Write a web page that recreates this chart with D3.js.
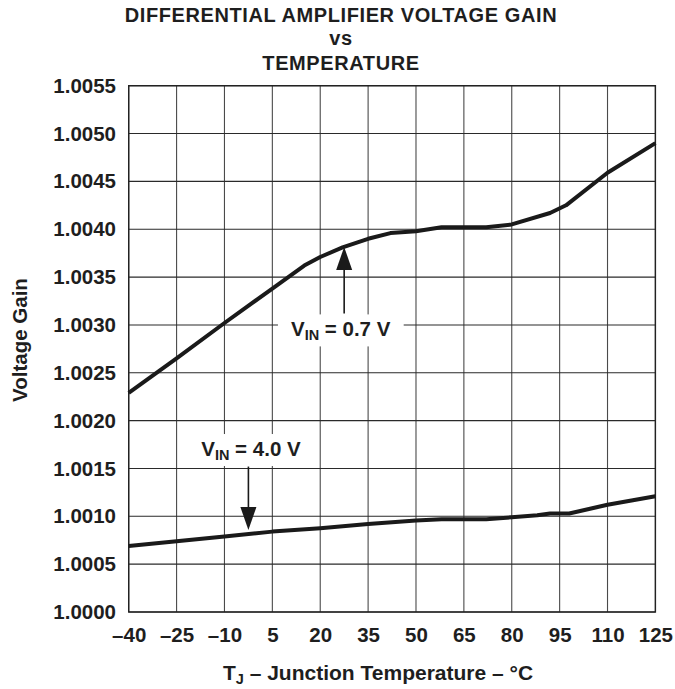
<!DOCTYPE html>
<html>
<head>
<meta charset="utf-8">
<script src="https://cdn.jsdelivr.net/npm/d3@7"></script>
<style>
  html, body { margin: 0; padding: 0; background: #fff; }
  svg { display: block; font-family: "Liberation Sans", Arial, Helvetica, sans-serif; }
  text { fill: #1e1e1e; font-weight: bold; }
</style>
</head>
<body>
<svg id="chart" width="675" height="689"></svg>
<script>
// ---- data ----
const xTicks = [-40, -25, -10, 5, 20, 35, 50, 65, 80, 95, 110, 125];
const yTicks = [1.0000, 1.0005, 1.0010, 1.0015, 1.0020, 1.0025, 1.0030, 1.0035, 1.0040, 1.0045, 1.0050, 1.0055];

// V_IN = 0.7 V
const tempHigh = [-40, -25, -10, 5, 15, 20, 27, 35, 42, 50, 58, 72, 80, 92, 97, 110, 125];
const gainHigh = [1.00229, 1.00265, 1.00302, 1.00338, 1.00362, 1.00371, 1.00381, 1.00390, 1.00396, 1.00398, 1.00402, 1.00402, 1.00405, 1.00417, 1.00425, 1.00459, 1.00490];

// V_IN = 4.0 V
const tempLow = [-40, -25, -10, 5, 20, 35, 50, 58, 72, 80, 88, 92, 98, 110, 125];
const gainLow = [1.00069, 1.00074, 1.00079, 1.00084, 1.000875, 1.00092, 1.000955, 1.00097, 1.00097, 1.00099, 1.00101, 1.00103, 1.00103, 1.00112, 1.00121];

// annotations: arrow x (°C), arrow start gain, arrow tip gain, label
const annoLabels = ["0.7 V", "4.0 V"];
const annoArrowX = [27.5, -2.5];
const annoFrom = [1.00312, 1.00152];
const annoTo = [1.003815, 1.000856];
const annoLabelX = [26.4, -1.7];
const annoLabelY = [1.00288, 1.00163];

// ---- layout ----
const svg = d3.select("#chart");
const L = 128.7, R = 655.4, T = 85.7, B = 612;
const x = d3.scaleLinear().domain([-40, 125]).range([L, R]);
const y = d3.scaleLinear().domain([1.0000, 1.0055]).range([B, T]);

// grid
const grid = svg.append("g");
grid.selectAll("line.v").data(xTicks).join("line")
  .attr("x1", d => x(d)).attr("x2", d => x(d))
  .attr("y1", T).attr("y2", B)
  .attr("stroke", "#4a4a4a").attr("stroke-width", 1.1);
grid.selectAll("line.h").data(yTicks).join("line")
  .attr("x1", L).attr("x2", R)
  .attr("y1", d => y(d)).attr("y2", d => y(d))
  .attr("stroke", "#2a2a2a").attr("stroke-width", 1.1);
svg.append("rect").attr("x", L).attr("y", T).attr("width", R - L).attr("height", B - T)
  .attr("fill", "none").attr("stroke", "#222").attr("stroke-width", 1.4);

// axes (labels)
const xAxis = d3.axisBottom(x).tickValues(xTicks).tickSize(0).tickPadding(15.5)
  .tickFormat(d => d < 0 ? "\u2013" + Math.abs(d) : String(d));
svg.append("g").attr("transform", `translate(0,${B})`).call(xAxis)
  .call(g => g.select(".domain").remove())
  .selectAll("text").attr("font-size", 20.5).attr("font-family", null).attr("fill", "#1e1e1e");

const yAxis = d3.axisLeft(y).tickValues(yTicks).tickSize(0).tickPadding(12.7)
  .tickFormat(d3.format(".4f"));
svg.append("g").attr("transform", `translate(${L},0)`).call(yAxis)
  .call(g => g.select(".domain").remove())
  .selectAll("text").attr("font-size", 20.5).attr("font-family", null).attr("fill", "#1e1e1e");

// curves
const line = d3.line().x(d => x(d[0])).y(d => y(d[1]));
const series = [d3.zip(tempHigh, gainHigh), d3.zip(tempLow, gainLow)];
svg.append("g").selectAll("path").data(series).join("path")
  .attr("d", line).attr("fill", "none")
  .attr("stroke", "#1a1a1a").attr("stroke-width", 4)
  .attr("stroke-linejoin", "round");

// annotations
annoLabels.forEach((lab, i) => {
  const g = svg.append("g");
  const t = g.append("text")
    .attr("x", x(annoLabelX[i])).attr("y", y(annoLabelY[i]))
    .attr("text-anchor", "middle").attr("font-size", 20.5);
  t.append("tspan").text("V");
  t.append("tspan").attr("font-size", 14.5).attr("dy", 4).text("IN");
  t.append("tspan").attr("dy", -4).text(" = " + lab);
  const bb = t.node().getBBox();
  g.insert("rect", "text")
    .attr("x", bb.x - 13).attr("y", bb.y - 3)
    .attr("width", bb.width + 26).attr("height", bb.height + 6)
    .attr("fill", "#fff");

  const ax = x(annoArrowX[i]), y0 = y(annoFrom[i]), y1 = y(annoTo[i]);
  const dir = y1 < y0 ? -1 : 1;
  const headLen = 23, headW = 8;
  g.append("line").attr("x1", ax).attr("x2", ax)
    .attr("y1", y0).attr("y2", y1 - dir * headLen)
    .attr("stroke", "#1a1a1a").attr("stroke-width", 1.6);
  g.append("path")
    .attr("d", `M${ax},${y1} L${ax - headW},${y1 - dir * headLen} L${ax + headW},${y1 - dir * headLen} Z`)
    .attr("fill", "#1a1a1a");
});

// title
const titleLines = ["DIFFERENTIAL AMPLIFIER VOLTAGE GAIN", "vs", "TEMPERATURE"];
const titleY = [22, 45, 69.5];
svg.append("g").selectAll("text").data(titleLines).join("text")
  .attr("x", 341).attr("y", (d, i) => titleY[i])
  .attr("text-anchor", "middle").attr("font-size", 20)
  .attr("letter-spacing", 0.6)
  .text(d => d);

// axis titles
const xt = svg.append("text").attr("x", 378).attr("y", 680)
  .attr("text-anchor", "middle").attr("font-size", 21);
xt.append("tspan").text("T");
xt.append("tspan").attr("font-size", 14.5).attr("dy", 4).text("J");
xt.append("tspan").attr("dy", -4).text(" \u2013 Junction Temperature \u2013 \u00B0C");

svg.append("text").attr("transform", "translate(26.5,340) rotate(-90)")
  .attr("text-anchor", "middle").attr("font-size", 20.5)
  .text("Voltage Gain");
</script>
</body>
</html>
